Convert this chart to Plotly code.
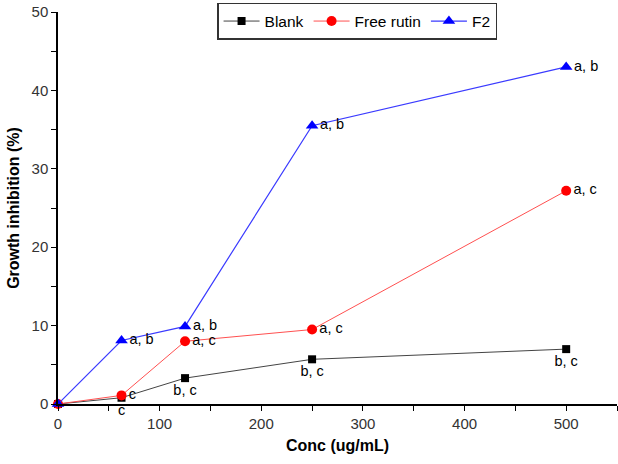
import plotly.graph_objects as go

conc = [0, 62.5, 125, 250, 500]
blank = [0, 0.8, 3.3, 5.7, 7.0]
free_rutin = [0, 1.1, 8.0, 9.5, 27.2]
f2 = [0, 8.1, 9.9, 35.5, 43.0]

blank_lbl = ["", "c", "b, c", "b, c", "b, c"]
rutin_lbl = ["", "c", "a, c", "a, c", "a, c"]
f2_lbl = ["", "a, b", "a, b", "a, b", "a, b"]

font = "Liberation Sans, Arial, sans-serif"
fig = go.Figure()
fig.add_trace(go.Scatter(x=conc, y=blank, name="Blank", mode="lines+markers+text",
                         line=dict(color="#444444", width=1),
                         marker=dict(symbol="square", size=8, color="black"),
                         text=blank_lbl, textposition="bottom center",
                         textfont=dict(size=14.5, color="black", family=font),
                         cliponaxis=False))
fig.add_trace(go.Scatter(x=conc, y=free_rutin, name="Free rutin", mode="lines+markers+text",
                         line=dict(color="#ff5050", width=1),
                         marker=dict(symbol="circle", size=10, color="red"),
                         text=rutin_lbl, textposition="middle right",
                         textfont=dict(size=14.5, color="black", family=font),
                         cliponaxis=False))
fig.add_trace(go.Scatter(x=conc, y=f2, name="F2", mode="lines+markers+text",
                         line=dict(color="#3a3aff", width=1.2),
                         marker=dict(symbol="triangle-up", size=11, color="blue"),
                         text=f2_lbl, textposition="middle right",
                         textfont=dict(size=14.5, color="black", family=font),
                         cliponaxis=False))

fig.update_layout(
    width=618, height=464,
    margin=dict(l=58, r=1, t=12, b=60, autoexpand=False),
    plot_bgcolor="white", paper_bgcolor="white",
    font=dict(family=font, size=15, color="#333333"),
    showlegend=True,
    legend=dict(orientation="h", x=0.535, xanchor="center", y=1.023, yanchor="top",
                bordercolor="#333333", borderwidth=1.5, bgcolor="white",
                font=dict(size=15.5, color="black"), itemwidth=36,
                tracegroupgap=0),
)
fig.update_xaxes(range=[0, 550], showline=True, linecolor="black", linewidth=1.5,
                 ticks="outside", ticklen=5, tickcolor="black", dtick=100, tick0=0,
                 minor=dict(ticks="outside", dtick=50, ticklen=5, tickcolor="black"),
                 showgrid=False, zeroline=False, automargin=False,
                 title=dict(text="<b>Conc (ug/mL)</b>", font=dict(size=16, color="black"), standoff=9))
fig.update_yaxes(range=[0, 50], showline=True, linecolor="black", linewidth=1.5,
                 ticks="outside", ticklen=5, tickcolor="black", dtick=10, tick0=0,
                 minor=dict(ticks="outside", dtick=5, ticklen=5, tickcolor="black"),
                 showgrid=False, zeroline=False, automargin=False,
                 title=dict(text="<b>Growth inhibition (%)</b>", font=dict(size=16, color="black"), standoff=8))

fig.write_html("out.html", config={"displayModeBar": False},
               post_script="document.body.style.margin='0px';")
